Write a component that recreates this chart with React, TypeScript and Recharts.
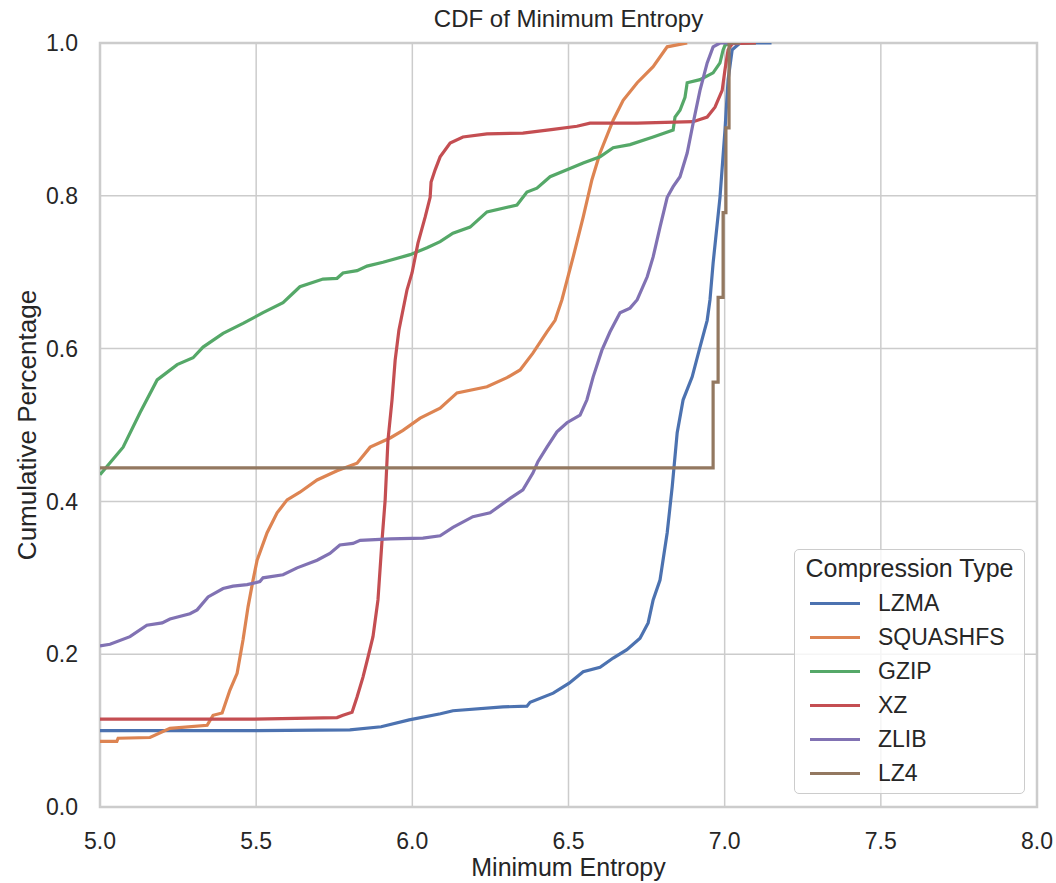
import { LineChart, Line, XAxis, YAxis, CartesianGrid, ReferenceArea } from "recharts"

// Minimum-entropy CDF per compression type, as (entropy, cumulative share) pairs
const lzma: [number, number][] = [
  [5.0, 0.1], [5.5, 0.1], [5.8, 0.101], [5.9, 0.105], [5.99, 0.114], [6.09, 0.122],
  [6.13, 0.126], [6.29, 0.131], [6.367, 0.132], [6.377, 0.137], [6.451, 0.149],
  [6.502, 0.162], [6.547, 0.177], [6.601, 0.183], [6.643, 0.195], [6.687, 0.206],
  [6.729, 0.221], [6.755, 0.241], [6.771, 0.271], [6.793, 0.297], [6.816, 0.359],
  [6.832, 0.419], [6.848, 0.49], [6.867, 0.533], [6.896, 0.563], [6.921, 0.602],
  [6.944, 0.637], [6.953, 0.664], [6.963, 0.712], [6.985, 0.798], [7.001, 0.886],
  [7.011, 0.952], [7.024, 0.991], [7.049, 1.0], [7.15, 1.0],
]

const squashfs: [number, number][] = [
  [5.0, 0.086], [5.054, 0.086], [5.058, 0.09], [5.16, 0.091], [5.224, 0.103],
  [5.343, 0.107], [5.362, 0.12], [5.391, 0.123], [5.416, 0.153], [5.439, 0.175],
  [5.458, 0.219], [5.474, 0.262], [5.49, 0.297], [5.503, 0.323], [5.535, 0.359],
  [5.567, 0.385], [5.599, 0.402], [5.64, 0.412], [5.695, 0.428], [5.759, 0.44],
  [5.823, 0.45], [5.865, 0.471], [5.929, 0.483], [5.97, 0.493], [6.025, 0.509],
  [6.089, 0.522], [6.143, 0.542], [6.239, 0.55], [6.303, 0.562], [6.345, 0.572],
  [6.386, 0.594], [6.431, 0.622], [6.457, 0.637], [6.479, 0.664], [6.515, 0.72],
  [6.547, 0.772], [6.575, 0.821], [6.601, 0.856], [6.643, 0.899], [6.675, 0.925],
  [6.72, 0.948], [6.771, 0.969], [6.816, 0.995], [6.88, 1.0],
]

const gzip: [number, number][] = [
  [5.0, 0.435], [5.074, 0.471], [5.128, 0.516], [5.183, 0.559], [5.247, 0.579],
  [5.298, 0.588], [5.33, 0.602], [5.394, 0.62], [5.458, 0.633], [5.522, 0.647],
  [5.586, 0.66], [5.64, 0.681], [5.714, 0.691], [5.759, 0.692], [5.778, 0.699],
  [5.823, 0.702], [5.855, 0.708], [5.906, 0.713], [5.993, 0.723], [6.047, 0.732],
  [6.089, 0.74], [6.13, 0.751], [6.185, 0.759], [6.239, 0.779], [6.335, 0.788],
  [6.367, 0.805], [6.399, 0.81], [6.441, 0.825], [6.495, 0.834], [6.547, 0.843],
  [6.601, 0.851], [6.643, 0.863], [6.697, 0.867], [6.771, 0.877], [6.835, 0.886],
  [6.841, 0.903], [6.857, 0.912], [6.873, 0.929], [6.88, 0.948], [6.921, 0.952],
  [6.963, 0.961], [6.985, 0.974], [6.995, 0.991], [7.001, 0.997], [7.017, 1.0], [7.1, 1.0],
]

const xz: [number, number][] = [
  [5.0, 0.115], [5.48, 0.115], [5.759, 0.117], [5.778, 0.12], [5.807, 0.124],
  [5.823, 0.144], [5.842, 0.17], [5.858, 0.196], [5.874, 0.223], [5.89, 0.271],
  [5.903, 0.349], [5.913, 0.402], [5.922, 0.48], [5.935, 0.533], [5.945, 0.585],
  [5.957, 0.624], [5.983, 0.677], [5.999, 0.699], [6.018, 0.738], [6.041, 0.772],
  [6.057, 0.798], [6.06, 0.818], [6.073, 0.834], [6.089, 0.851], [6.121, 0.869],
  [6.162, 0.877], [6.239, 0.881], [6.354, 0.882], [6.451, 0.887], [6.527, 0.891],
  [6.569, 0.895], [6.72, 0.895], [6.899, 0.897], [6.944, 0.903], [6.969, 0.916],
  [6.992, 0.938], [7.001, 0.965], [7.011, 0.991], [7.024, 0.999], [7.1, 1.0],
]

const zlib: [number, number][] = [
  [5.0, 0.211], [5.032, 0.213], [5.096, 0.223], [5.15, 0.238], [5.199, 0.241],
  [5.224, 0.246], [5.288, 0.253], [5.311, 0.258], [5.346, 0.275], [5.394, 0.286],
  [5.426, 0.289], [5.471, 0.291], [5.512, 0.295], [5.522, 0.3], [5.586, 0.304],
  [5.631, 0.313], [5.695, 0.323], [5.736, 0.332], [5.768, 0.343], [5.81, 0.345],
  [5.833, 0.349], [5.929, 0.351], [6.034, 0.352], [6.089, 0.355], [6.13, 0.366],
  [6.194, 0.38], [6.249, 0.385], [6.313, 0.404], [6.354, 0.415], [6.386, 0.437],
  [6.402, 0.452], [6.431, 0.471], [6.463, 0.491], [6.495, 0.503], [6.537, 0.513],
  [6.559, 0.533], [6.579, 0.563], [6.607, 0.598], [6.633, 0.622], [6.665, 0.647],
  [6.697, 0.653], [6.72, 0.664], [6.752, 0.694], [6.771, 0.72], [6.793, 0.759],
  [6.816, 0.798], [6.835, 0.812], [6.857, 0.825], [6.88, 0.856], [6.899, 0.895],
  [6.921, 0.938], [6.944, 0.974], [6.963, 0.995], [6.985, 1.0], [7.05, 1.0],
]

// LZ4 only has nine files, so its CDF is a staircase
const lz4: [number, number][] = [
  [5.0, 0.444], [6.963, 0.556], [6.979, 0.667], [6.995, 0.778], [7.004, 0.889], [7.014, 1.0], [7.05, 1.0],
]

const X_TICKS = [5.0, 5.5, 6.0, 6.5, 7.0, 7.5, 8.0]
const Y_TICKS = [0.0, 0.2, 0.4, 0.6, 0.8, 1.0]

const SERIES = [
  { name: "LZMA", color: "#4c72b0", points: lzma, step: false },
  { name: "SQUASHFS", color: "#dd8452", points: squashfs, step: false },
  { name: "GZIP", color: "#55a868", points: gzip, step: false },
  { name: "XZ", color: "#c44e52", points: xz, step: false },
  { name: "ZLIB", color: "#8172b3", points: zlib, step: false },
  { name: "LZ4", color: "#937860", points: lz4, step: true },
]

const FONT = "'Liberation Sans', Arial, sans-serif"
const INK = "#262626"
const GRID = "#cccccc"

// legend sits over the lower right of the plot, like matplotlib's "best" spot
const LegendBox = () => (
  <div style={{
    position: "absolute", left: 794, top: 549, width: 231, height: 245, boxSizing: "border-box",
    background: "rgba(255,255,255,0.8)", border: `1.5px solid ${GRID}`, borderRadius: 5,
    fontFamily: FONT, color: INK,
  }}>
    <div style={{ position: "absolute", top: 4, left: 0, width: "100%", textAlign: "center", fontSize: 25 }}>
      Compression Type
    </div>
    {SERIES.map((s, i) => (
      <div key={s.name} style={{
        position: "absolute", left: 15, top: 40 + i * 34, height: 26,
        display: "flex", alignItems: "center", fontSize: 23,
      }}>
        <span style={{ display: "inline-block", width: 50, height: 3, background: s.color, marginRight: 18 }} />
        {s.name}
      </div>
    ))}
  </div>
)

export default function App() {
  return (
    <div style={{ position: "absolute", left: 0, top: 0, width: 1056, height: 883, background: "#fff", fontFamily: FONT }}>
      <div style={{
        position: "absolute", top: 5, left: 100, width: 937, textAlign: "center",
        fontSize: 24, color: INK,
      }}>
        CDF of Minimum Entropy
      </div>
      <LineChart width={1056} height={883} margin={{ top: 43, right: 19, bottom: 4, left: 40 }}>
        <CartesianGrid stroke={GRID} strokeWidth={1.5} horizontalValues={Y_TICKS} verticalValues={X_TICKS} />
        <XAxis
          type="number" dataKey="x" domain={[5, 8]} ticks={X_TICKS} allowDataOverflow
          height={72} tickLine={false} axisLine={false} tickSize={0} tickMargin={26}
          tickFormatter={(v: number) => v.toFixed(1)}
          tick={{ fill: INK, fontSize: 23, fontFamily: FONT }}
          label={{ value: "Minimum Entropy", position: "insideBottom", offset: 3, fill: INK, fontSize: 25, fontFamily: FONT }}
        />
        <YAxis
          type="number" dataKey="y" domain={[0, 1]} ticks={Y_TICKS} allowDataOverflow
          width={60} tickLine={false} axisLine={false} tickSize={0} tickMargin={22}
          tickFormatter={(v: number) => v.toFixed(1)}
          tick={{ fill: INK, fontSize: 23, fontFamily: FONT }}
          label={{ value: "Cumulative Percentage", angle: -90, position: "insideLeft", offset: -13, fill: INK, fontSize: 26, fontFamily: FONT, style: { textAnchor: "middle" } }}
        />
        <ReferenceArea x1={5} x2={8} y1={0} y2={1} fill="none" stroke={GRID} strokeWidth={2.5} ifOverflow="visible" />
        {SERIES.map(s => (
          <Line
            key={s.name}
            data={s.points.map(([x, y]) => ({ x, y }))}
            dataKey="y" name={s.name}
            type={s.step ? "stepAfter" : "linear"}
            stroke={s.color} strokeWidth={3.2} dot={false} activeDot={false}
            isAnimationActive={false}
          />
        ))}
      </LineChart>
      <LegendBox />
    </div>
  )
}
